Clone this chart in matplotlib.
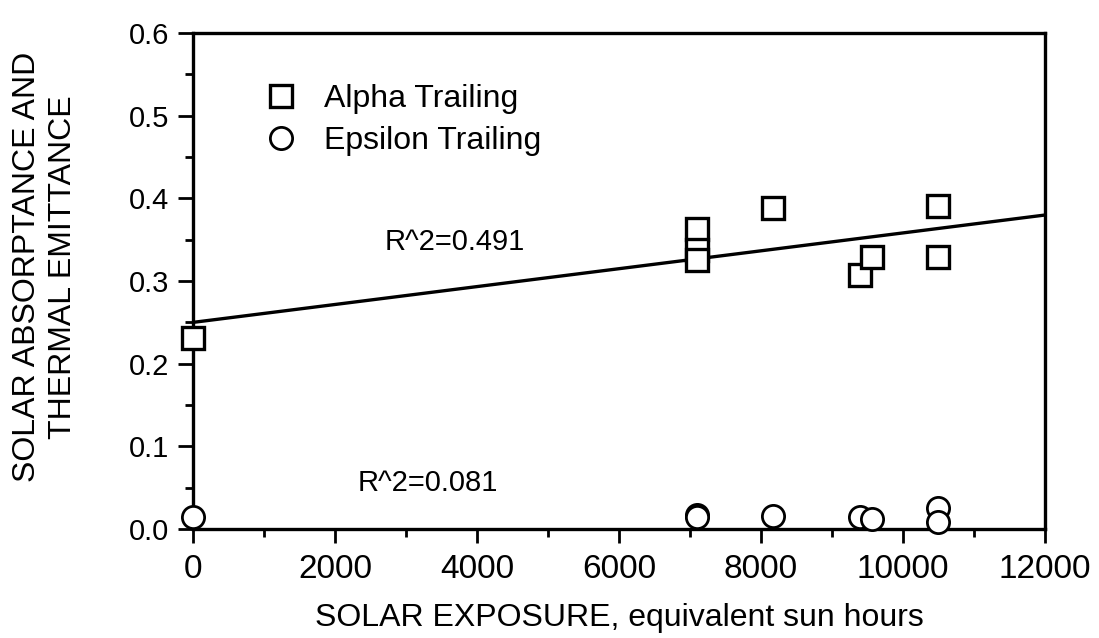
import numpy as np
import matplotlib
matplotlib.use("Agg")
import matplotlib.pyplot as plt

plt.rcParams["font.family"] = ["Liberation Sans", "DejaVu Sans"]

alpha_hours = [0, 7100, 7100, 7100, 8170, 9400, 9570, 10500, 10500]
alpha_vals = [0.231, 0.363, 0.338, 0.325, 0.388, 0.307, 0.329, 0.391, 0.329]
eps_hours = [0, 7100, 7100, 8170, 9400, 9570, 10500, 10500]
eps_vals = [0.015, 0.017, 0.015, 0.016, 0.015, 0.012, 0.025, 0.009]
alpha_r2 = "R^2=0.491"
eps_r2 = "R^2=0.081"

fig = plt.figure(figsize=(10.99, 6.38), dpi=100)
ax = fig.add_axes([193 / 1099, 1 - 529 / 638, 852 / 1099, 496 / 638])

# linear fit for alpha, drawn across the full axis
k, b = np.polyfit(alpha_hours, alpha_vals, 1)
xx = np.array([0, 12000])
ax.plot(xx, k * xx + b, color="black", lw=2.4, zorder=2)

ax.plot(alpha_hours, alpha_vals, ls="none", marker="s", ms=16, mfc="white",
        mec="black", mew=2.4, clip_on=False, zorder=3, label="Alpha Trailing")
ax.plot(eps_hours, eps_vals, ls="none", marker="o", ms=16, mfc="white",
        mec="black", mew=2.0, clip_on=False, zorder=3, label="Epsilon Trailing")

ax.text(2700, 0.347, alpha_r2, fontsize=21, va="center", ha="left")
ax.text(2320, 0.056, eps_r2, fontsize=21, va="center", ha="left")

ax.set_xlim(0, 12000)
ax.set_ylim(0, 0.6)
ax.set_xticks(np.arange(0, 12001, 2000))
ax.set_xticks(np.arange(1000, 12000, 2000), minor=True)
ax.set_yticks(np.arange(0, 0.61, 0.1))
ax.set_yticks(np.arange(0.05, 0.6, 0.1), minor=True)
ax.set_yticklabels([f"{v:.1f}" for v in np.arange(0, 0.61, 0.1)])
ax.tick_params(axis="x", which="major", length=10, width=2, pad=8, labelsize=24)
ax.tick_params(axis="y", which="major", length=11, width=2, pad=6, labelsize=21)
ax.tick_params(which="minor", length=6, width=2)
for s in ax.spines.values():
    s.set_linewidth(2.4)

leg = ax.legend(loc="upper left", bbox_to_anchor=(0.062, 0.93), frameon=False,
                fontsize=23, handletextpad=0.75, labelspacing=0.4, borderpad=0,
                handlelength=1.2)

fig.text(45 / 1099, 1 - 267 / 638, "SOLAR ABSORPTANCE AND\nTHERMAL EMITTANCE",
         rotation=90, ha="center", va="center", multialignment="center",
         fontsize=23, linespacing=1.3)
fig.text(619 / 1099, 1 - 618 / 638, "SOLAR EXPOSURE, equivalent sun hours",
         ha="center", va="center", fontsize=23)

fig.savefig("out.png")
